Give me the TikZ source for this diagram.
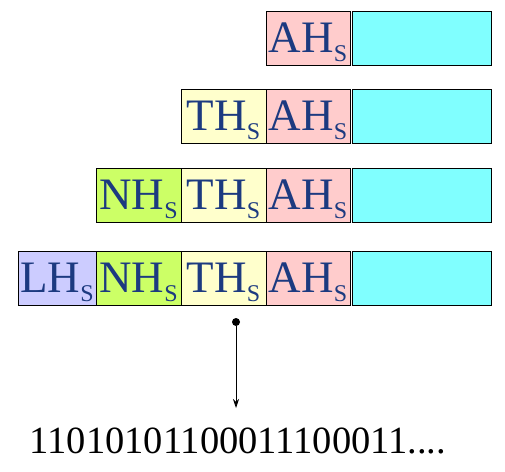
\documentclass[tikz,border=0pt]{standalone}
\usepackage{fontspec}
\setmainfont{Liberation Serif}
\usepackage{xcolor}
\usetikzlibrary{arrows.meta}

\definecolor{lhcol}{HTML}{CCCCFF}
\definecolor{nhcol}{HTML}{CCFF66}
\definecolor{thcol}{HTML}{FFFFCC}
\definecolor{ahcol}{HTML}{FFCCCC}
\definecolor{datacol}{HTML}{80FFFF}
\definecolor{hdrtext}{HTML}{1C3A80}

\newcommand{\hsub}[1]{#1H\raisebox{-9pt}{\fontsize{24}{24}\selectfont S}}

\begin{document}
\begin{tikzpicture}[x=1pt,y=-1pt,
    hbox/.style={draw, line width=1pt, inner sep=0pt, outer sep=0pt,
      anchor=north west, minimum height=54pt, text height=29pt,
      text depth=0pt, text=hdrtext, font=\fontsize{45}{45}\selectfont}]
        \useasboundingbox (0,0) rectangle (505,471);

        % application layer
        \node[hbox, fill=ahcol, minimum width=84pt] (ah1) at (266,11) {\hsub{A}};
        \node[hbox, fill=datacol, minimum width=139pt] (data1) at (352,11) {};

        % transport layer
        \node[hbox, fill=thcol, minimum width=85pt] (th2) at (181,89) {\hsub{T}};
        \node[hbox, fill=ahcol, minimum width=84pt] (ah2) at (266,89) {\hsub{A}};
        \node[hbox, fill=datacol, minimum width=139pt] (data2) at (352,89) {};

        % network layer
        \node[hbox, fill=nhcol, minimum width=85pt] (nh3) at (96,168) {\hsub{N}};
        \node[hbox, fill=thcol, minimum width=85pt] (th3) at (181,168) {\hsub{T}};
        \node[hbox, fill=ahcol, minimum width=84pt] (ah3) at (266,168) {\hsub{A}};
        \node[hbox, fill=datacol, minimum width=139pt] (data3) at (352,168) {};

        % link layer
        \node[hbox, fill=lhcol, minimum width=78pt] (lh4) at (18,251) {\hsub{L}};
        \node[hbox, fill=nhcol, minimum width=85pt] (nh4) at (96,251) {\hsub{N}};
        \node[hbox, fill=thcol, minimum width=85pt] (th4) at (181,251) {\hsub{T}};
        \node[hbox, fill=ahcol, minimum width=84pt] (ah4) at (266,251) {\hsub{A}};
        \node[hbox, fill=datacol, minimum width=139pt] (data4) at (352,251) {};

        % bits on the wire
        \node[circle, fill, inner sep=0pt, minimum size=8pt] (tap) at (236,322) {};
        \coordinate (tip) at (236,408);
        \draw[line width=0.8pt, -{Stealth[length=9pt,width=6pt]}] (tap) -- (tip);
        \node[anchor=base, inner sep=0pt, font=\fontsize{38.5}{38.5}\selectfont] (bits) at (238,453) {11010101100011100011....};
    \end{tikzpicture}
\end{document}
